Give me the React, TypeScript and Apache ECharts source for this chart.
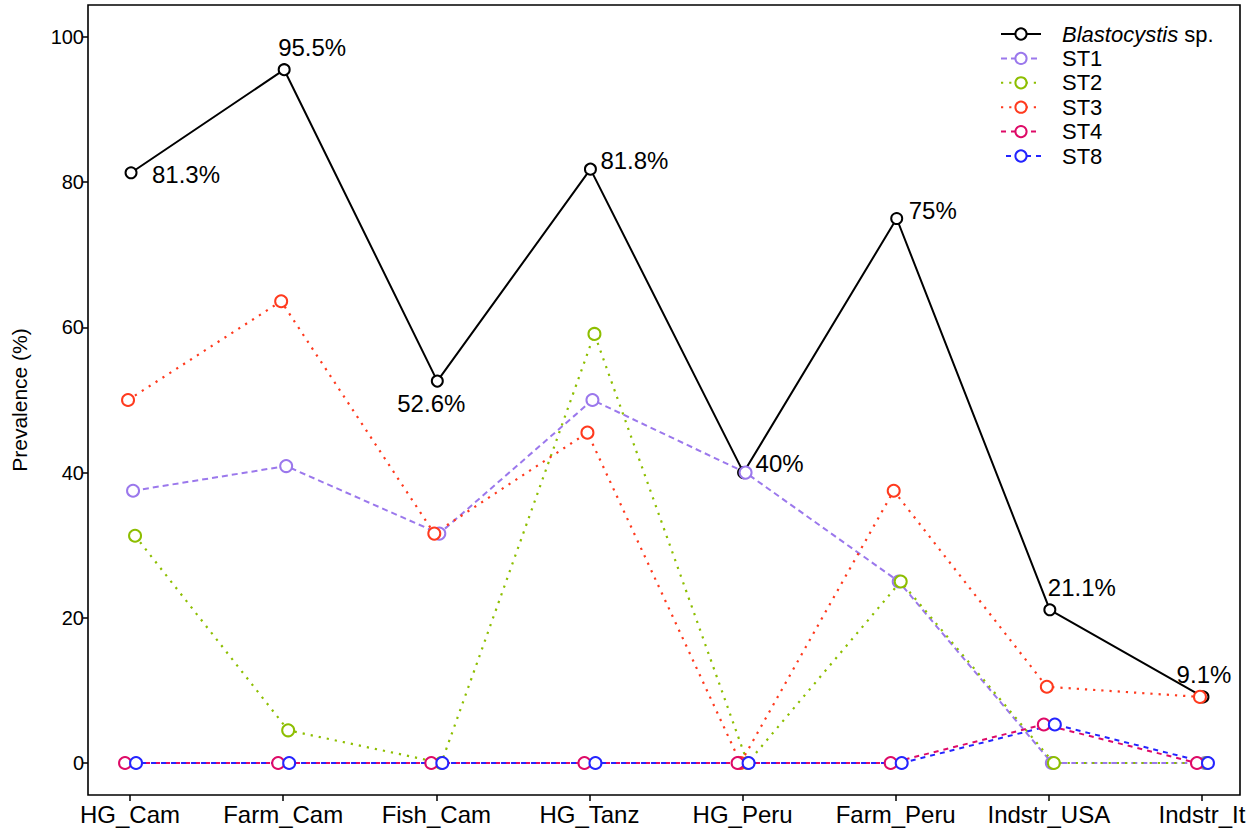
import React, { useEffect, useRef } from "react";
import * as echarts from "echarts";

const categories = ["HG_Cam", "Farm_Cam", "Fish_Cam", "HG_Tanz", "HG_Peru", "Farm_Peru", "Indstr_USA", "Indstr_It"];
const blastocystis = [81.3, 95.5, 52.6, 81.8, 40, 75, 21.1, 9.1];
const st1 = [37.5, 40.9, 31.6, 50, 40, 25, 0, 0];
const st2 = [31.3, 4.5, 0, 59.1, 0, 25, 0, 0];
const st3 = [50, 63.6, 31.6, 45.5, 0, 37.5, 10.5, 9.1];
const st4 = [0, 0, 0, 0, 0, 0, 5.3, 0];
const st8 = [0, 0, 0, 0, 0, 0, 5.3, 0];
const yTicks = [0, 20, 40, 60, 80, 100];

// label offsets (px) for the Blastocystis labels
const labelOffsets: [number, number][] = [
  [55, 2], [28, -22], [-6, 22], [44, -9], [36, -9], [36, -8], [32, -22], [1, -22],
];

const PX_PER_CAT = 153;
const FONT = "'Liberation Sans', Arial, Helvetica, sans-serif";

export default function App() {
  const ref = useRef<HTMLDivElement>(null);
  useEffect(() => {
    if (!ref.current) return;
    const chart = echarts.init(ref.current, null, { renderer: "svg" });

    const mk = (
      name: string,
      vals: number[],
      color: string,
      dodgePx: number,
      lineType: any,
      lineWidth: number,
      symbolSize: number,
      dashOffset = 0,
      withLabels = false
    ) => ({
      name,
      type: "line",
      clip: false,
      symbol: "emptyCircle",
      symbolSize,
      showAllSymbol: true,
      data: vals.map((v, i) => {
        const item: any = { value: [i + dodgePx / PX_PER_CAT, v] };
        if (withLabels) {
          item.label = {
            show: true,
            position: "inside",
            offset: labelOffsets[i],
            formatter: `${v}%`,
            color: "#000",
            fontSize: 24,
            fontFamily: FONT,
            align: "center",
            verticalAlign: "middle",
          };
        }
        return item;
      }),
      lineStyle: { color, width: lineWidth, type: lineType, dashOffset, cap: "butt" },
      itemStyle: { color, borderColor: color, borderWidth: 2.2 },
      emphasis: { disabled: true },
      z: 2,
    });

    const series = [
      mk("Blastocystis", blastocystis, "#000000", 1, "solid", 2, 11, 0, true),
      mk("ST1", st1, "#9B78EC", 3, [6, 4], 2, 12),
      mk("ST2", st2, "#8DBE00", 5, [2.2, 6], 2.2, 12),
      mk("ST3", st3, "#FF3A1E", -2, [2.2, 6], 2.2, 12),
      mk("ST4", st4, "#DE0A67", -5, [5, 5], 2, 12),
      mk("ST8", st8, "#2424FF", 6, [5, 5], 2, 12, 5),
    ];

    const catIdx = categories.map((_, i) => i);

    chart.setOption({
      animation: false,
      textStyle: { fontFamily: FONT },
      grid: {
        left: 88,
        right: 11,
        top: 5,
        bottom: 35,
        containLabel: false,
        show: true,
        borderColor: "#000",
        borderWidth: 1.6,
        backgroundColor: "transparent",
      },
      xAxis: {
        type: "value",
        min: -42 / PX_PER_CAT,
        max: categories.length - 1 + 38 / PX_PER_CAT,
        axisLine: { show: false, onZero: false },
        axisTick: {
          show: true,
          length: 6,
          customValues: catIdx,
          lineStyle: { color: "#000", width: 1.5 },
        },
        splitLine: { show: false },
        axisLabel: {
          customValues: catIdx,
          formatter: (v: number) => categories[Math.round(v)] ?? "",
          color: "#000",
          fontSize: 24,
          fontFamily: FONT,
          margin: 7,
        },
      },
      yAxis: {
        type: "value",
        min: -4.41,
        max: 104.41,
        name: "Prevalence (%)",
        nameLocation: "middle",
        nameGap: 58,
        nameTextStyle: { color: "#000", fontSize: 21, fontFamily: FONT },
        axisLine: { show: false, onZero: false },
        axisTick: {
          show: true,
          length: 5,
          customValues: yTicks,
          lineStyle: { color: "#000", width: 1.5 },
        },
        splitLine: { show: false },
        axisLabel: {
          customValues: yTicks,
          color: "#000",
          fontSize: 20,
          fontFamily: FONT,
          margin: 4,
        },
      },
      legend: {
        orient: "vertical",
        left: 995,
        top: 18,
        itemWidth: 40,
        itemHeight: 14,
        itemGap: 2.4,
        textStyle: {
          color: "#000",
          fontSize: 22,
          fontFamily: FONT,
          lineHeight: 22,
          padding: [0, 0, 0, 16],
          rich: {
            i: { fontStyle: "italic", fontSize: 22, lineHeight: 22, fontFamily: FONT, color: "#000" },
          },
        },
        formatter: (n: string) => (n === "Blastocystis" ? "{i|Blastocystis} sp." : n),
        data: ["Blastocystis", "ST1", "ST2", "ST3", "ST4", "ST8"],
      },
      series,
    });
    return () => chart.dispose();
  }, []);
  return (
    <div
      ref={ref}
      style={{ position: "fixed", left: 0, top: 0, width: 1251, height: 830, background: "#fff" }}
    />
  );
}
